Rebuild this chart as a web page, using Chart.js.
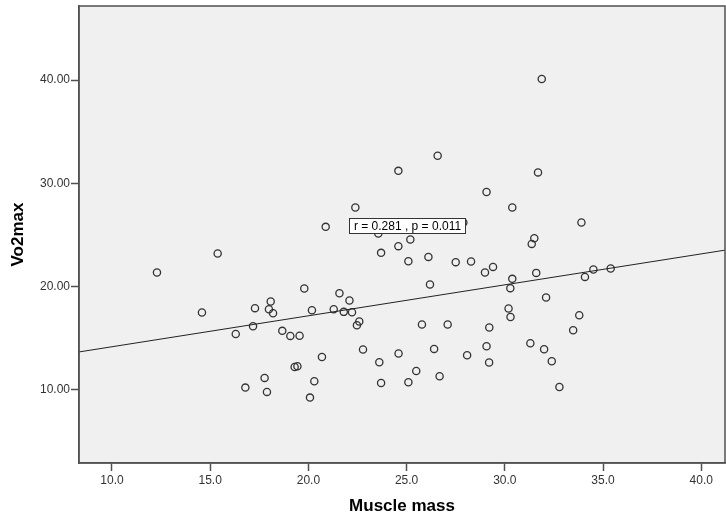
<!DOCTYPE html>
<html>
<head>
<meta charset="utf-8">
<script src="https://cdn.jsdelivr.net/npm/chart.js@4.4.1/dist/chart.umd.min.js"></script>
<style>
  html, body { margin: 0; padding: 0; background: #ffffff; overflow: hidden; }
  canvas { display: block; }
</style>
</head>
<body>
<canvas id="c" width="726" height="518"></canvas>
<script>
// Muscle mass (x) and Vo2max (y) per subject
const muscleMass = [
  12.29, 15.38, 14.58, 16.30, 16.79, 17.28, 18.08, 17.99, 18.20, 17.18,
  18.67, 19.08, 19.55, 19.30, 19.44, 17.77, 17.89, 23.70, 25.09, 26.11,
  27.50, 28.28, 28.99, 26.19, 19.79, 21.58, 22.09, 20.18, 21.29, 21.80,
  22.22, 22.59, 22.47, 25.78, 27.09, 22.78, 20.69, 24.59, 26.40, 28.08,
  23.61, 25.49, 26.68, 20.30, 23.70, 25.09, 20.08, 29.21, 29.07, 29.20,
  22.39, 20.88, 27.89, 23.56, 25.19, 24.58, 26.58, 24.58, 29.07, 31.88,
  31.69, 30.38, 33.90, 31.50, 31.37, 29.40, 30.38, 30.28, 31.60, 34.51,
  35.39, 34.08, 32.10, 30.19, 30.29, 33.79, 33.48, 31.30, 32.00, 32.39,
  32.78
];
const vo2max = [
  21.35, 23.19, 17.47, 15.39, 10.19, 17.89, 18.54, 17.79, 17.40, 16.14,
  15.69, 15.20, 15.22, 12.19, 12.26, 11.13, 9.77, 23.25, 22.44, 22.86,
  22.35, 22.41, 21.35, 20.18, 19.80, 19.34, 18.63, 17.69, 17.79, 17.53,
  17.50, 16.60, 16.24, 16.30, 16.30, 13.88, 13.16, 13.49, 13.94, 13.33,
  12.65, 11.80, 11.29, 10.80, 10.64, 10.71, 9.22, 16.01, 14.20, 12.62,
  27.65, 25.77, 26.20, 25.13, 24.55, 23.90, 32.66, 31.20, 29.15, 40.10,
  31.05, 27.65, 26.20, 24.67, 24.12, 21.89, 20.73, 19.83, 21.31, 21.64,
  21.73, 20.92, 18.92, 17.86, 17.04, 17.20, 15.75, 14.49, 13.91, 12.74,
  10.25
];

// Axis ticks and ranges
const xTickValues = [10, 15, 20, 25, 30, 35, 40];
const yTickValues = [10, 20, 30, 40];
const xRange = [8.32, 41.21];
const yRange = [2.88, 47.18];

// Linear fit line and its annotation
const fitIntercept = 11.15;
const fitSlope = 0.300;
const fitLabel = 'r = 0.281 , p = 0.011';
const fitLabelAt = { x: 25.0, y: 25.95 };

const FONT = '"Liberation Sans", Arial, sans-serif';
const FRAME = '#505050';
const PLOT_RIGHT = 725;

const scatterPoints = muscleMass.map((x, i) => ({ x: x, y: vo2max[i] }));
const fitPoints = xRange.map(x => ({ x: x, y: fitIntercept + fitSlope * x }));

const plotFrame = {
  id: 'plotFrame',
  afterLayout(chart) {
    // let the plot box run to the right edge of the canvas
    const a = chart.chartArea;
    const xs = chart.scales.x;
    a.right = PLOT_RIGHT;
    a.width = a.right - a.left;
    xs.right = PLOT_RIGHT;
    xs.width = xs.right - xs.left;
    xs.configure();
  },
  beforeDraw(chart) {
    const { ctx, chartArea: a } = chart;
    ctx.save();
    ctx.fillStyle = '#f0f0f0';
    ctx.fillRect(a.left, a.top, a.right - a.left, a.bottom - a.top);
    ctx.restore();
  },
  afterDraw(chart) {
    const { ctx, chartArea: a, scales } = chart;
    ctx.save();
    ctx.strokeStyle = FRAME;
    ctx.lineWidth = 1.5;
    ctx.strokeRect(a.left, a.top, a.right - a.left, a.bottom - a.top);

    // correlation label box
    ctx.font = '12px ' + FONT;
    const tw = ctx.measureText(fitLabel).width;
    const cx = scales.x.getPixelForValue(fitLabelAt.x);
    const cy = scales.y.getPixelForValue(fitLabelAt.y);
    const w = Math.round(tw + 9), h = 15;
    const bx = Math.round(cx - w / 2) + 0.5, by = Math.round(cy - h / 2) + 0.5;
    ctx.fillStyle = '#ffffff';
    ctx.fillRect(bx, by, w, h);
    ctx.strokeStyle = '#333333';
    ctx.lineWidth = 1;
    ctx.strokeRect(bx, by, w, h);
    ctx.fillStyle = '#000000';
    ctx.textAlign = 'center';
    ctx.textBaseline = 'middle';
    ctx.fillText(fitLabel, bx + w / 2, by + h / 2 + 0.5);
    ctx.restore();
  }
};

new Chart(document.getElementById('c'), {
  type: 'scatter',
  data: {
    datasets: [
      {
        type: 'line',
        data: fitPoints,
        borderColor: '#222222',
        borderWidth: 1,
        pointRadius: 0,
        fill: false,
        order: 0
      },
      {
        data: scatterPoints,
        pointRadius: 3.6,
        pointBorderWidth: 1.3,
        borderColor: '#333333',
        backgroundColor: 'rgba(0,0,0,0)',
        order: 1
      }
    ]
  },
  options: {
    responsive: false,
    animation: false,
    events: [],
    layout: { padding: { top: 6, right: 1, left: 0, bottom: 0 } },
    plugins: {
      legend: { display: false },
      tooltip: { enabled: false }
    },
    scales: {
      x: {
        type: 'linear',
        min: xRange[0],
        max: xRange[1],
        afterBuildTicks(scale) { scale.ticks = xTickValues.map(v => ({ value: v })); },
        afterFit(scale) {
          scale.height = 55;
          scale.paddingLeft = 0;
          scale.paddingRight = 0;
        },
        grid: { drawOnChartArea: false, drawTicks: true, tickLength: 8, tickColor: FRAME, tickWidth: 1.5 },
        border: { display: true, color: FRAME, width: 1.5 },
        ticks: {
          padding: 2,
          color: '#333333',
          font: { family: FONT, size: 12 },
          maxRotation: 0,
          callback: v => Number(v).toFixed(1)
        },
        title: {
          display: true,
          text: 'Muscle mass',
          color: '#000000',
          font: { family: FONT, size: 17, weight: 'bold' },
          padding: { top: 0, bottom: 1.5 }
        }
      },
      y: {
        type: 'linear',
        min: yRange[0],
        max: yRange[1],
        afterBuildTicks(scale) { scale.ticks = yTickValues.map(v => ({ value: v })); },
        afterFit(scale) {
          scale.width = 79;
          scale.paddingTop = 0;
          scale.paddingBottom = 0;
        },
        grid: { drawOnChartArea: false, drawTicks: true, tickLength: 8, tickColor: FRAME, tickWidth: 1.5 },
        border: { display: true, color: FRAME, width: 1.5 },
        ticks: {
          padding: 1,
          color: '#333333',
          font: { family: FONT, size: 12 },
          callback: v => Number(v).toFixed(2)
        },
        title: {
          display: true,
          text: 'Vo2max',
          color: '#000000',
          font: { family: FONT, size: 17, weight: 'bold' },
          padding: { top: 8, bottom: 0 }
        }
      }
    }
  },
  plugins: [plotFrame]
});
</script>
</body>
</html>
